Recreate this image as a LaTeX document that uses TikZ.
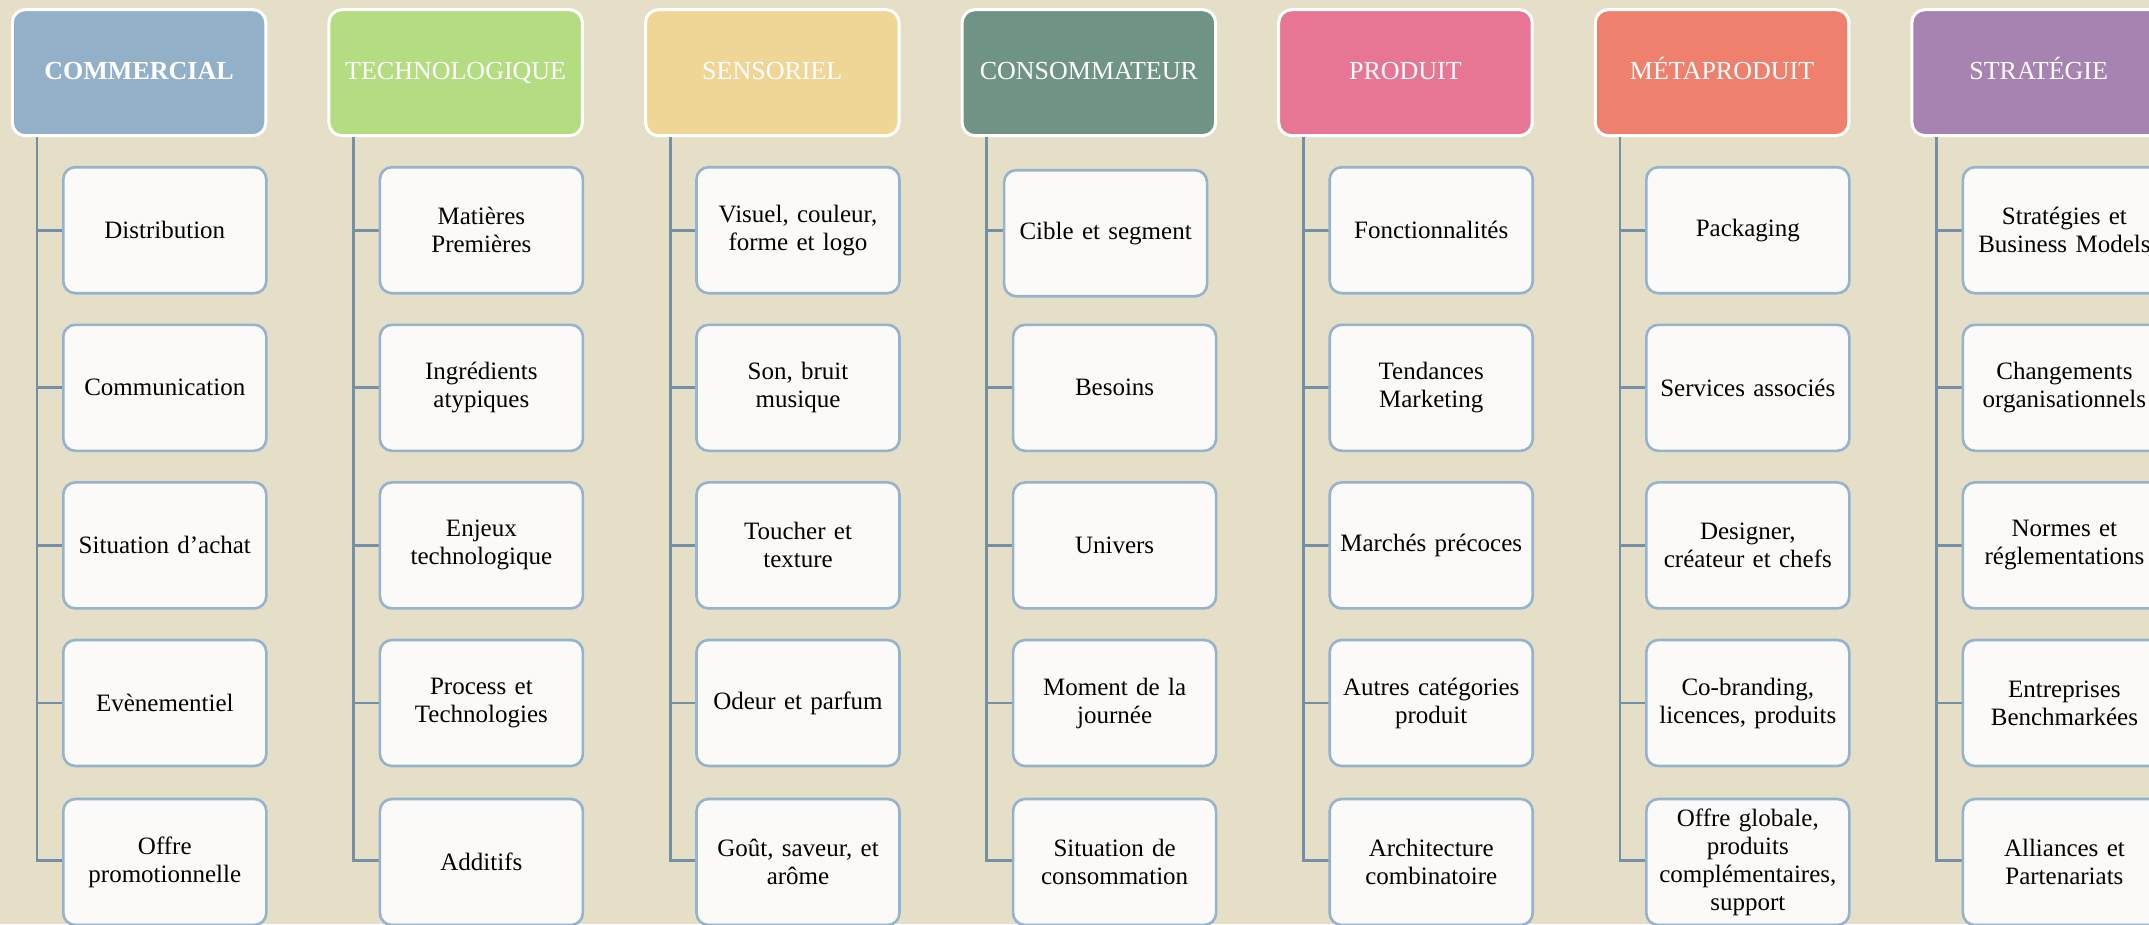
\documentclass[tikz,border=0pt]{standalone}
\usepackage{fontspec}
\setmainfont{Liberation Serif}
\definecolor{bgc}{HTML}{E6DFC7}
\definecolor{linec}{HTML}{7490A6}
\definecolor{childb}{HTML}{93B3CF}
\definecolor{childf}{HTML}{FBFAF8}
\definecolor{cComm}{HTML}{93B0C9}
\definecolor{cTech}{HTML}{B4DD81}
\definecolor{cSens}{HTML}{F0D696}
\definecolor{cCons}{HTML}{6F9486}
\definecolor{cProd}{HTML}{E67694}
\definecolor{cMeta}{HTML}{EE806D}
\definecolor{cStrat}{HTML}{A783B1}
\tikzset{
  head/.style={rectangle, rounded corners=13pt, draw=white, line width=3pt,
    minimum width=253.5pt, minimum height=126pt, inner sep=0pt, text=white,
    text height=17pt, text depth=4pt,
    font=\fontsize{26}{30}\selectfont},
  child/.style={rectangle, rounded corners=12pt, draw=childb, fill=childf, line width=2.6pt,
    minimum width=203pt, minimum height=126pt, inner sep=0pt, text width=198pt, align=center,
    font=\fontsize{25}{28}\selectfont},
  conn/.style={draw=linec, line width=2.8pt}
}
\def\fsx{0}\def\fsy{0}
\newcommand\mkcol[8]{%
  \pgfmathsetmacro\xo{12.3+316.6*#1}%
  \node[head, fill=#3] (h#1) at (\xo+126.75, 72.65) {#2};
  \foreach \r in {1,...,5}{%
    \draw[conn] ([xshift=26.1pt]h#1.south west) |- (\xo+60, 230.2+157.6*\r-157.6);
  }
  \node[child] (c#1-1) at (\xo+152.5+\fsx, 230.2+\fsy) {#4};
  \node[child] (c#1-2) at (\xo+152.5, 387.8) {#5};
  \node[child] (c#1-3) at (\xo+152.5, 545.4) {#6};
  \node[child] (c#1-4) at (\xo+152.5, 703.0) {#7};
  \node[child] (c#1-5) at (\xo+152.5, 862.0) {#8};
}
\begin{document}
\begin{tikzpicture}[x=1pt,y=-1pt]
\useasboundingbox[fill=bgc] (0,0) rectangle (2149,924);
\mkcol{0}{\textbf{COMMERCIAL}}{cComm}{Distribution}{Communication}{Situation d’achat}{Evènementiel}{Offre\\ promotionnelle}
\mkcol{1}{TECHNOLOGIQUE}{cTech}{Matières\\ Premières}{Ingrédients\\ atypiques}{Enjeux\\ technologique}{Process et\\ Technologies}{Additifs}
\mkcol{2}{SENSORIEL}{cSens}{Visuel, couleur,\\ forme et logo}{Son, bruit\\ musique}{Toucher et\\ texture}{Odeur et parfum}{Goût, saveur, et\\ arôme}
\def\fsx{-9}\def\fsy{3}
\mkcol{3}{CONSOMMATEUR}{cCons}{Cible et segment}{Besoins}{Univers}{Moment de la\\ journée}{Situation de\\ consommation}
\def\fsx{0}\def\fsy{0}
\mkcol{4}{PRODUIT}{cProd}{Fonctionnalités}{Tendances\\ Marketing}{Marchés précoces}{Autres catégories\\ produit}{Architecture\\ combinatoire}
\mkcol{5}{MÉTAPRODUIT}{cMeta}{Packaging}{Services associés}{Designer,\\ créateur et chefs}{Co-branding,\\ licences, produits}{Offre globale,\\ produits\\ complémentaires,\\ support}
\mkcol{6}{STRATÉGIE}{cStrat}{Stratégies et\\ Business Models}{Changements\\ organisationnels}{Normes et\\ réglementations}{Entreprises\\ Benchmarkées}{Alliances et\\ Partenariats}
\end{tikzpicture}
\end{document}
